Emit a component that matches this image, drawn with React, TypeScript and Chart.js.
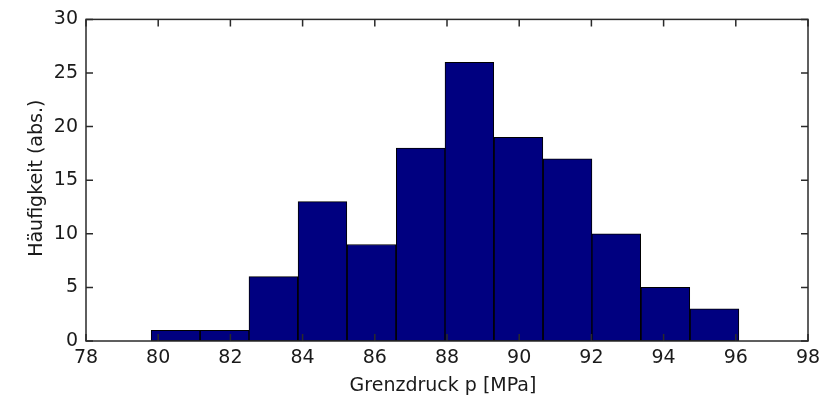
import React, { useEffect, useRef } from "react";
import { Chart, registerables } from "chart.js";

Chart.register(...registerables);

// Histogram bins (centres in MPa) and absolute frequencies
const binCenters = [80.48, 81.84, 83.19, 84.55, 85.91, 87.27, 88.62, 89.98, 91.34, 92.69, 94.05, 95.41];
const counts = [1, 1, 6, 13, 9, 18, 26, 19, 17, 10, 5, 3];

// Axis ranges and tick steps
const xRange = [78, 98];
const xStep = 2;
const yRange = [0, 30];
const yStep = 5;

const xTitle = "Grenzdruck p [MPa]";
const yTitle = "Häufigkeit (abs.)";

const FONT = "'DejaVu Sans', sans-serif";
const AXIS_COLOR = "#2a2a2a";
const TICK_LEN = 7;

// Draws the boxed axes with inward ticks on all four sides plus the axis titles
const matlabAxes = {
  id: "matlabAxes",
  afterDraw(chart: Chart) {
    const { ctx, chartArea, scales } = chart;
    const { left, right, top, bottom } = chartArea;
    const xs = scales.x;
    const ys = scales.y;
    ctx.save();
    ctx.strokeStyle = AXIS_COLOR;
    ctx.lineWidth = 1.5;
    ctx.strokeRect(left, top, right - left, bottom - top);
    ctx.beginPath();
    xs.ticks.forEach((t) => {
      const px = xs.getPixelForValue(t.value);
      ctx.moveTo(px, bottom);
      ctx.lineTo(px, bottom - TICK_LEN);
      ctx.moveTo(px, top);
      ctx.lineTo(px, top + TICK_LEN);
    });
    ys.ticks.forEach((t) => {
      const py = ys.getPixelForValue(t.value);
      ctx.moveTo(left, py);
      ctx.lineTo(left + TICK_LEN, py);
      ctx.moveTo(right, py);
      ctx.lineTo(right - TICK_LEN, py);
    });
    ctx.stroke();

    ctx.fillStyle = "#1a1a1a";
    ctx.font = `19px ${FONT}`;
    ctx.textAlign = "center";
    ctx.textBaseline = "middle";
    ctx.fillText(xTitle, (left + right) / 2 - 4, bottom + 45);
    ctx.translate(37, (top + bottom) / 2 - 2);
    ctx.rotate(-Math.PI / 2);
    ctx.fillText(yTitle, 0, 0);
    ctx.restore();
  },
};

export default function App() {
  const canvasRef = useRef<HTMLCanvasElement | null>(null);

  useEffect(() => {
    if (!canvasRef.current) return;
    const chart = new Chart(canvasRef.current, {
      type: "bar",
      data: {
        datasets: [
          {
            data: binCenters.map((x, i) => ({ x, y: counts[i] })),
            backgroundColor: "#000080",
            borderColor: "#000000",
            borderWidth: 1,
            borderSkipped: false,
            barPercentage: 1,
            categoryPercentage: 1,
          },
        ],
      },
      options: {
        animation: false,
        responsive: true,
        maintainAspectRatio: false,
        layout: { padding: { left: 0, top: 16, right: 23, bottom: 0 } },
        plugins: { legend: { display: false }, tooltip: { enabled: false } },
        scales: {
          x: {
            type: "linear",
            min: xRange[0],
            max: xRange[1],
            offset: false,
            grid: { display: false, drawTicks: false, offset: false },
            border: { display: false },
            ticks: {
              stepSize: xStep,
              padding: 6,
              color: "#1a1a1a",
              font: { family: FONT, size: 19 },
              maxRotation: 0,
            },
            afterFit(scale: any) {
              scale.height = 61;
            },
          },
          y: {
            min: yRange[0],
            max: yRange[1],
            grid: { display: false, drawTicks: false },
            border: { display: false },
            ticks: {
              stepSize: yStep,
              padding: 8,
              color: "#1a1a1a",
              font: { family: FONT, size: 19 },
            },
            afterFit(scale: any) {
              scale.width = 86;
            },
          },
        },
      },
      plugins: [matlabAxes],
    });
    return () => chart.destroy();
  }, []);

  return (
    <div style={{ position: "absolute", left: 0, top: 0, width: 831, height: 402, background: "#fff" }}>
      <canvas ref={canvasRef} />
    </div>
  );
}
